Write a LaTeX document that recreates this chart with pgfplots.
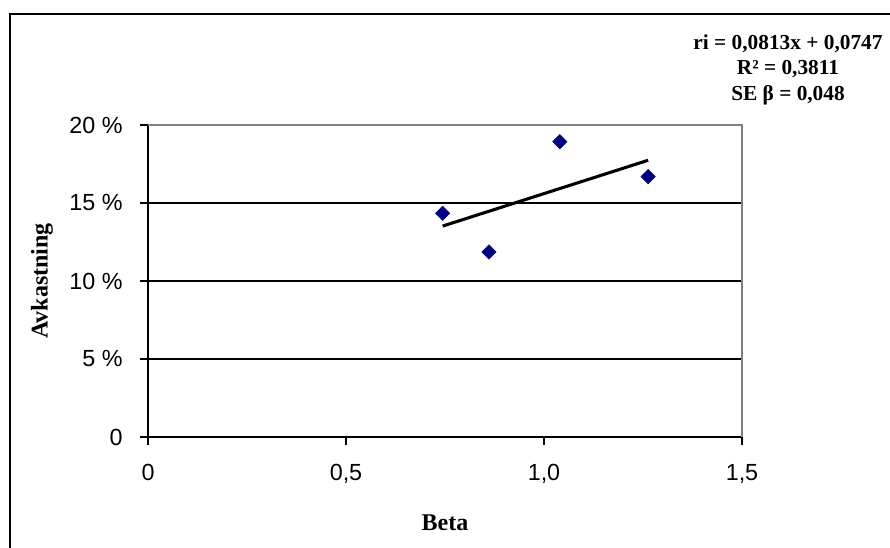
\documentclass[border=0pt]{standalone}
\usepackage{pgfplots}
\pgfplotsset{compat=1.18}
\usepackage{fontspec}
\setmainfont{Liberation Serif}
\newfontfamily\arial{Liberation Sans}

\definecolor{marknavy}{HTML}{000080}

\begin{document}
\begin{tikzpicture}[x=1pt,y=1pt]
  % page area and outer chart frame
  \useasboundingbox (-111,-82.5) rectangle (556.5,327.75);
  \draw[line width=1.5pt] (-103.5,-120) -- (-103.5,317.25) -- (600,317.25);

  \begin{axis}[
    at={(0,0)}, anchor=south west,
    scale only axis,
    width=445.5pt, height=234pt,
    xmin=0, xmax=1.5, ymin=0, ymax=20,
    axis lines*=left,
    axis line style={line width=1.1pt, black},
    tick align=outside,
    major tick length=6pt,
    tick style={line width=1.1pt, black},
    xtick={0,0.5,1,1.5},
    xticklabels={0,{0,5},{1,0},{1,5}},
    ytick={0,5,10,15,20},
    yticklabels={0,5 \%,10 \%,15 \%,20 \%},
    ticklabel style={font=\arial\fontsize{17.5}{20}\selectfont},
    xticklabel style={yshift=-11pt},
    yticklabel style={xshift=-9.5pt},
    ymajorgrids,
    major grid style={line width=1.1pt, black},
    xlabel={Beta},
    ylabel={Avkastning},
    label style={font=\bfseries\fontsize{18}{20}\selectfont},
    xlabel style={at={(axis description cs:0.5,-0.2756)}, anchor=center},
    ylabel style={at={(axis description cs:-0.1785,0.5)}, anchor=center},
    clip=false,
  ]
    % observed return versus beta
    \addplot[only marks, mark=square*, mark size=3.8pt,
             mark options={rotate=45, fill=marknavy, draw=marknavy}]
      coordinates {
        (0.744,14.34)
        (0.861,11.86)
        (1.040,18.93)
        (1.263,16.69)
      };
    % fitted line ri = 0.0813x + 0.0747 over the observed beta range
    \addplot[black, line width=2.3pt]
      coordinates {(0.744,13.52) (1.263,17.74)};
    % upper and right border of the plot area
    \draw[line width=1.1pt, gray] (rel axis cs:0,1) -- (rel axis cs:1,1) -- (rel axis cs:1,0);
  \end{axis}

  \node[align=center, font=\bfseries\fontsize{16}{19}\selectfont] at (480,275.5)
    {ri = 0,0813x + 0,0747\\R² = 0,3811\\SE β = 0,048};
\end{tikzpicture}
\end{document}
